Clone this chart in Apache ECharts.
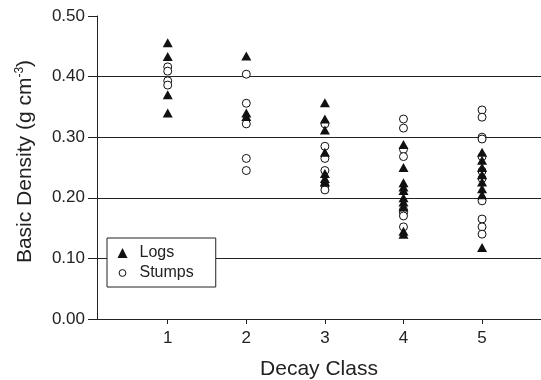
<!DOCTYPE html>
<html>
<head>
<meta charset="utf-8">
<script src="https://cdn.jsdelivr.net/npm/echarts@6/dist/echarts.min.js"></script>
<style>
html,body{margin:0;padding:0;background:#fff;}
#chart{width:541px;height:380px;}
</style>
</head>
<body>
<div id="chart"></div>
<script>
var categories = [1, 2, 3, 4, 5];
var yTicks = [0, 0.1, 0.2, 0.3, 0.4, 0.5];

var logs1 = [0.456, 0.433, 0.370, 0.340];
var logs2 = [0.434, 0.340, 0.334];
var logs3 = [0.357, 0.330, 0.312, 0.275, 0.240, 0.232, 0.226];
var logs4 = [0.288, 0.250, 0.225, 0.218, 0.212, 0.200, 0.193, 0.185, 0.145, 0.140];
var logs5 = [0.275, 0.262, 0.250, 0.238, 0.226, 0.215, 0.205, 0.118];

var stumps1 = [0.416, 0.409, 0.393, 0.386];
var stumps2 = [0.404, 0.356, 0.322, 0.265, 0.245];
var stumps3 = [0.322, 0.285, 0.265, 0.245, 0.220, 0.213];
var stumps4 = [0.330, 0.315, 0.280, 0.268, 0.180, 0.175, 0.170, 0.152];
var stumps5 = [0.345, 0.333, 0.300, 0.297, 0.268, 0.244, 0.232, 0.195, 0.165, 0.152, 0.140];

var logsByClass = [logs1, logs2, logs3, logs4, logs5];
var stumpsByClass = [stumps1, stumps2, stumps3, stumps4, stumps5];

function toPoints(groups) {
  var out = [];
  groups.forEach(function (vals, i) {
    vals.forEach(function (v) { out.push([categories[i], v]); });
  });
  return out;
}

var font = '"Liberation Sans", Arial, sans-serif';
// small hollow circle inside a 10x10 box for the legend icon
var smallCircle = 'path://M0,0 M10,10 M5,1.6 A3.4,3.4 0 1 1 4.99,1.6 Z';

var chart = echarts.init(document.getElementById('chart'), null, {renderer: 'canvas'});
chart.setOption({
  animation: false,
  backgroundColor: '#fff',
  grid: {left: 97, top: 16, right: 0, bottom: 61, containLabel: false, outerBoundsMode: 'none'},
  xAxis: {
    type: 'value',
    min: 0.1,
    max: 5.75,
    name: 'Decay Class',
    nameLocation: 'middle',
    nameGap: 40,
    nameTextStyle: {fontFamily: font, fontSize: 21, color: '#222'},
    axisLine: {show: true, onZero: false, lineStyle: {color: '#222', width: 1}},
    axisTick: {show: true, inside: false, length: 5, customValues: categories, lineStyle: {color: '#222'}},
    axisLabel: {customValues: categories, margin: 11, fontFamily: font, fontSize: 17, color: '#222',
      formatter: function (v) { return String(Math.round(v)); }},
    splitLine: {show: false}
  },
  yAxis: {
    type: 'value',
    min: 0,
    max: 0.5,
    interval: 0.1,
    name: '{a|Basic Density (g cm}{s|-3}{a|)}',
    nameLocation: 'middle',
    nameGap: 61,
    nameRotate: 90,
    nameTextStyle: {
      padding: [0, 0, 0, 12],
      rich: {
        a: {fontFamily: font, fontSize: 21, color: '#222'},
        s: {fontFamily: font, fontSize: 12, color: '#222', verticalAlign: 'top', padding: [0, 0, 10, 0]}
      }
    },
    axisLine: {show: true, lineStyle: {color: '#222', width: 1}},
    axisTick: {show: true, inside: false, length: 9, lineStyle: {color: '#222'}},
    axisLabel: {margin: 12, fontFamily: font, fontSize: 17, color: '#222',
      formatter: function (v) { return v.toFixed(2); }},
    splitLine: {show: true, showMinLine: false, showMaxLine: false, lineStyle: {color: '#222', width: 1}}
  },
  legend: {
    orient: 'vertical',
    left: 107,
    top: 238,
    padding: [7, 22, 6, 10],
    itemGap: 4,
    itemWidth: 10,
    itemHeight: 10,
    backgroundColor: '#fff',
    borderColor: '#222',
    borderWidth: 1,
    borderRadius: 0,
    textStyle: {fontFamily: font, fontSize: 16, color: '#222', padding: [0, 0, 0, 7]},
    data: [
      {name: 'Logs', icon: 'triangle', itemStyle: {color: '#111', borderWidth: 0}},
      {name: 'Stumps', icon: smallCircle, itemStyle: {color: '#fff', borderColor: '#111', borderWidth: 1}}
    ]
  },
  series: [
    {
      name: 'Stumps',
      type: 'scatter',
      symbol: 'circle',
      symbolSize: 8,
      z: 2,
      itemStyle: {color: '#fff', borderColor: '#111', borderWidth: 1, opacity: 1},
      data: toPoints(stumpsByClass)
    },
    {
      name: 'Logs',
      type: 'scatter',
      symbol: 'triangle',
      symbolSize: [10, 9],
      z: 3,
      itemStyle: {color: '#111', opacity: 1},
      data: toPoints(logsByClass)
    }
  ]
});
</script>
</body>
</html>
